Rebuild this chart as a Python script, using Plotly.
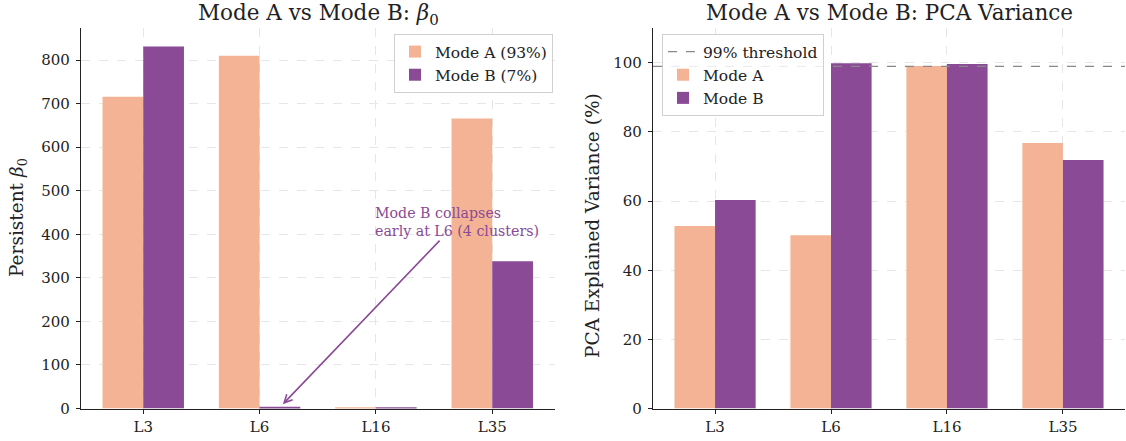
import plotly.graph_objects as go

layers = ["L3", "L6", "L16", "L35"]
beta0_mode_a = [716, 810, 1, 666]
beta0_mode_b = [831, 4, 1, 338]
pca_mode_a = [52.8, 50.1, 99.1, 76.8]
pca_mode_b = [60.3, 99.9, 99.7, 71.9]
threshold = 99
yticks_left = [0, 100, 200, 300, 400, 500, 600, 700, 800]
yticks_right = [0, 20, 40, 60, 80, 100]

COL_A = "#F4B394"
COL_B = "#8A4A96"
FONT = "DejaVu Serif"
W, H = 1126, 441

def px(x):
    return x / W

def py(y):
    return 1 - y / H

fig = go.Figure()
fig.add_trace(go.Bar(x=layers, y=beta0_mode_a, name="Mode A (93%)", marker_color=COL_A,
                     marker_line_width=0, xaxis="x", yaxis="y", legend="legend"))
fig.add_trace(go.Bar(x=layers, y=beta0_mode_b, name="Mode B (7%)", marker_color=COL_B,
                     marker_line_width=0, xaxis="x", yaxis="y", legend="legend"))
fig.add_trace(go.Scatter(x=[None], y=[None], mode="lines", name="99% threshold",
                         line=dict(color="#888888", width=1.2, dash="dash"),
                         xaxis="x2", yaxis="y2", legend="legend2"))
fig.add_trace(go.Bar(x=layers, y=pca_mode_a, name="Mode A", marker_color=COL_A,
                     marker_line_width=0, xaxis="x2", yaxis="y2", legend="legend2"))
fig.add_trace(go.Bar(x=layers, y=pca_mode_b, name="Mode B", marker_color=COL_B,
                     marker_line_width=0, xaxis="x2", yaxis="y2", legend="legend2"))

fig.add_shape(type="line", xref="x2 domain", yref="y2", x0=0, x1=1, y0=threshold, y1=threshold,
              line=dict(color="#888888", width=1.2, dash="dash"), layer="above")

grid = dict(showgrid=True, gridcolor="#e6e6e6", griddash="dash", gridwidth=1)
axis_common = dict(showline=True, linecolor="#222222", linewidth=1.2, ticks="outside",
                   ticklen=4, tickcolor="#222222", tickwidth=1.2, automargin=False,
                   tickfont=dict(family=FONT, size=15, color="#222222"), zeroline=False, **grid)

ydom = [py(408.5), py(28.3)]
legend_font = dict(family=FONT, size=15.5, color="#222222")
fig.update_layout(
    width=W, height=H, margin=dict(l=0, r=0, t=0, b=0),
    plot_bgcolor="white", paper_bgcolor="white",
    barmode="group", bargap=0.3, bargroupgap=0,
    font=dict(family=FONT, color="#222222"),
    xaxis=dict(domain=[px(81), px(554.5)], anchor="y", type="category", categoryarray=layers,
               range=[-0.535, 3.535], **axis_common),
    yaxis=dict(domain=ydom, anchor="x", range=[0, 873], tickvals=yticks_left,
               ticklabelstandoff=3, **axis_common),
    xaxis2=dict(domain=[px(653), px(1125)], anchor="y2", type="category", categoryarray=layers,
                range=[-0.535, 3.535], **axis_common),
    yaxis2=dict(domain=ydom, anchor="x2", range=[0, 110], tickvals=yticks_right,
                ticklabelstandoff=3, **axis_common),
    legend=dict(x=px(553), y=py(34), xanchor="right", yanchor="top",
                bgcolor="rgba(255,255,255,0.85)", bordercolor="#d0d0d0", borderwidth=1,
                font=legend_font),
    legend2=dict(x=px(662), y=py(34), xanchor="left", yanchor="top",
                 bgcolor="rgba(255,255,255,0.85)", bordercolor="#d0d0d0", borderwidth=1,
                 font=legend_font, traceorder="normal"),
    showlegend=True,
)

annotations = [
    dict(text="Mode A vs Mode B: <i>β</i><sub>0</sub>", x=px(318), y=py(14), xref="paper", yref="paper",
         showarrow=False, font=dict(family=FONT, size=21.5, color="#222222"), xanchor="center", yanchor="middle"),
    dict(text="Mode A vs Mode B: PCA Variance", x=px(889), y=py(13), xref="paper", yref="paper",
         showarrow=False, font=dict(family=FONT, size=21.5, color="#222222"), xanchor="center", yanchor="middle"),
    dict(text="Persistent <i>β</i><sub>0</sub>", x=px(18), y=py(218), xref="paper", yref="paper",
         showarrow=False, textangle=-90, font=dict(family=FONT, size=18.5, color="#222222"),
         xanchor="center", yanchor="middle"),
    dict(text="PCA Explained Variance (%)", x=px(592), y=py(226), xref="paper", yref="paper",
         showarrow=False, textangle=-90, font=dict(family=FONT, size=18.5, color="#222222"),
         xanchor="center", yanchor="middle"),
    dict(text="Mode B collapses<br>early at L6 (4 clusters)", x=1.2, y=10, xref="x", yref="y",
         ax=2.7, ay=428, axref="x", ayref="y", showarrow=True, arrowhead=5, arrowsize=1,
         arrowwidth=1.6, arrowcolor=COL_B, align="left",
         font=dict(family=FONT, size=14.2, color=COL_B)),
]
fig.update_layout(annotations=annotations)

fig.write_html("out.html", config={"displayModeBar": False},
               post_script="document.body.style.margin='0';")
